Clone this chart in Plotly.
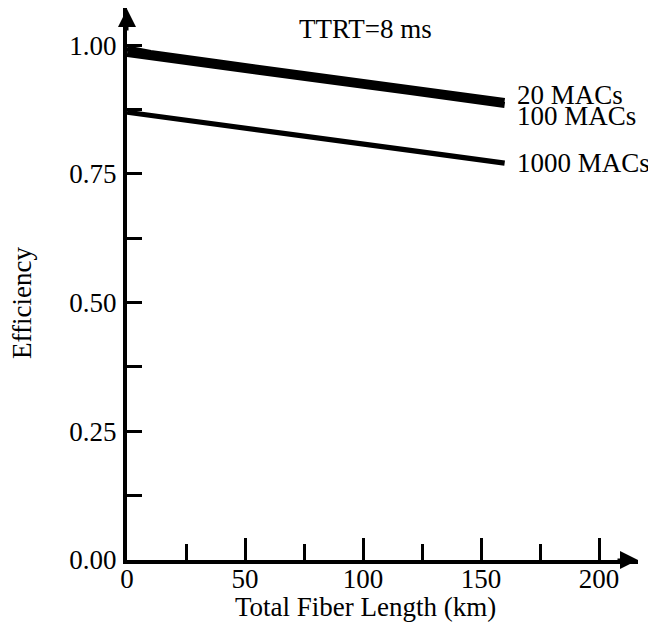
import plotly.graph_objects as go

# Data
fiber_km = [0, 10, 40, 80, 120, 160]
eff_20_macs = [0.994, 0.985, 0.966, 0.942, 0.917, 0.892]
eff_100_macs = [0.983, 0.977, 0.958, 0.934, 0.909, 0.884]
eff_1000_macs = [0.870, 0.864, 0.845, 0.821, 0.796, 0.771]

series_names = ["20 MACs", "100 MACs", "1000 MACs"]
series_values = [eff_20_macs, eff_100_macs, eff_1000_macs]
label_y = [0.903, 0.862, 0.771]

x_major_ticks = [0, 50, 100, 150, 200]
y_major_ticks = [0.0, 0.25, 0.5, 0.75, 1.0]
y_tick_text = ["0.00", "0.25", "0.50", "0.75", "1.00"]

FONT = "Liberation Serif, Times New Roman, serif"
FS = 27

# page has an 8px body margin; plot area spans screen x 127..638, y 8..560
W, H = 648, 617
ML, MT, MR, MB = 119, 0, 18, 65
PW, PH = W - ML - MR, H - MT - MB


def px(sx):
    return (sx - 127) / PW


def py(sy):
    return (560 - sy) / PH


fig = go.Figure()
widths = [6, 6, 5.2]
for name, vals, w in zip(series_names, series_values, widths):
    fig.add_trace(go.Scatter(x=fiber_km, y=vals, mode="lines", name=name,
                             line=dict(color="black", width=w),
                             showlegend=False))

for name, ly in zip(series_names, label_y):
    fig.add_annotation(x=164.3, y=ly, xref="x", yref="y", text=name,
                       showarrow=False, xanchor="left", yanchor="middle",
                       font=dict(family=FONT, size=FS, color="black"))

fig.add_annotation(x=px(365), y=py(29), xref="paper", yref="paper", text="TTRT=8 ms",
                   showarrow=False, xanchor="center", yanchor="middle",
                   font=dict(family=FONT, size=FS, color="black"))

fig.update_layout(
    width=W, height=H,
    margin=dict(l=ML, r=MR, t=MT, b=MB),
    paper_bgcolor="white", plot_bgcolor="white",
    font=dict(family=FONT, size=FS, color="black"),
    xaxis=dict(range=[0, 216.5], showgrid=False, zeroline=False,
               showline=True, linecolor="black", linewidth=3.5,
               ticks="inside", ticklen=22, tickwidth=2.5, tickcolor="black",
               tickvals=x_major_ticks, ticklabelstandoff=-8,
               minor=dict(dtick=25, tick0=0, ticks="inside", ticklen=16,
                          tickwidth=2.5, tickcolor="black", showgrid=False),
               tickfont=dict(family=FONT, size=FS)),
    yaxis=dict(range=[0, 1.0725], showgrid=False, zeroline=False,
               showline=True, linecolor="black", linewidth=4,
               ticks="inside", ticklen=15, tickwidth=2.5, tickcolor="black",
               tickvals=y_major_ticks, ticktext=y_tick_text,
               ticklabelstandoff=1,
               minor=dict(dtick=0.125, tick0=0, ticks="inside", ticklen=15,
                          tickwidth=2.5, tickcolor="black", showgrid=False),
               tickfont=dict(family=FONT, size=FS)),
)

# Axis titles
fig.add_annotation(x=px(365), y=py(607), xref="paper", yref="paper",
                   text="Total Fiber Length (km)", showarrow=False,
                   xanchor="center", yanchor="middle", font=dict(family=FONT, size=FS))
fig.add_annotation(x=px(22), y=py(303), xref="paper", yref="paper",
                   text="Efficiency", showarrow=False, textangle=-90,
                   xanchor="center", yanchor="middle", font=dict(family=FONT, size=FS))

# Axis arrows
fig.add_annotation(x=1, y=0, xref="paper", yref="paper", ax=-22, ay=0,
                   text="", showarrow=True, arrowhead=2, arrowsize=1.2,
                   arrowwidth=3, arrowcolor="black")
fig.add_annotation(x=0, y=1, xref="paper", yref="paper", ax=0, ay=24,
                   text="", showarrow=True, arrowhead=2, arrowsize=1.2,
                   arrowwidth=3, arrowcolor="black")

fig.write_html("out.html")
